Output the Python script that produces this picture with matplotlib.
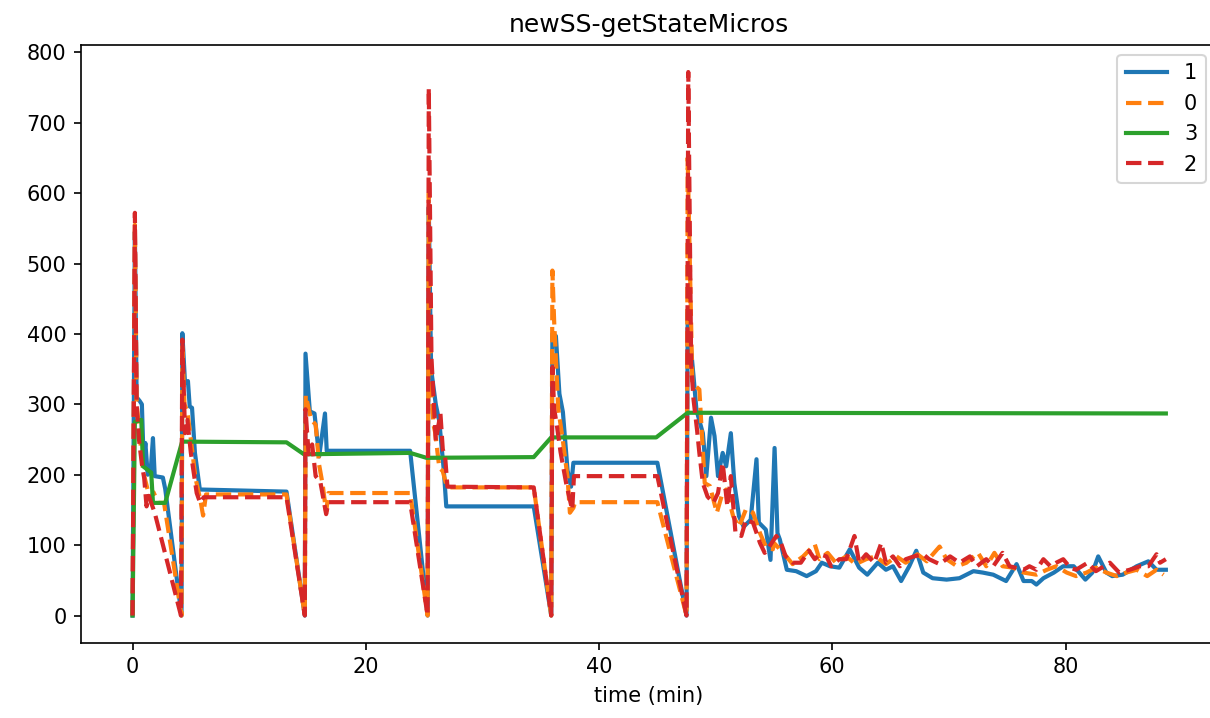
import matplotlib
matplotlib.use("Agg")
import matplotlib.pyplot as plt

# (time in minutes, value)
s1 = [(0, 0), (0.2, 545), (0.35, 310), (0.6, 305), (0.8, 300), (0.95, 220), (1.1, 245), (1.3, 200),
      (1.55, 205), (1.75, 252), (1.9, 198), (2.6, 196), (2.8, 180), (4.2, 0),
      (4.27, 401), (4.5, 330), (4.75, 333), (4.9, 297), (5.1, 295), (5.35, 231), (5.77, 179), (13.2, 176), (14.77, 0),
      (14.83, 372), (15.2, 290), (15.6, 287), (16.0, 226), (16.5, 287), (16.65, 234), (23.8, 234), (25.3, 0),
      (25.4, 580), (25.6, 350), (26.0, 300), (26.3, 276), (26.7, 204), (26.9, 155), (34.4, 155), (35.9, 0),
      (36.0, 400), (36.3, 397), (36.6, 315), (36.9, 289), (37.3, 206), (37.6, 183), (37.8, 217), (45.0, 217), (47.5, 0),
      (47.6, 430), (48.1, 340), (48.35, 292), (48.9, 259), (49.2, 198), (49.6, 281), (49.9, 255), (50.2, 198),
      (50.6, 231), (50.9, 212), (51.3, 259), (51.6, 188), (52.0, 141), (52.4, 126), (53.0, 136), (53.5, 222),
      (53.7, 132), (54.3, 122), (54.7, 79), (55.05, 238), (55.3, 117), (55.5, 108), (56.1, 65), (56.9, 63),
      (57.8, 56), (58.6, 63), (59.1, 75), (59.8, 70), (60.6, 68), (61.5, 94), (62.3, 68), (63.0, 58), (63.9, 75),
      (64.6, 65), (65.2, 70), (65.9, 49), (66.6, 70), (67.2, 92), (67.8, 61), (68.6, 53), (69.8, 51), (70.9, 53),
      (72.1, 63), (72.9, 61), (73.8, 58), (74.9, 49), (75.8, 73), (76.4, 49), (77.1, 49), (77.5, 44), (78.1, 53),
      (79.0, 61), (79.8, 70), (80.7, 70), (81.7, 51), (82.3, 61), (82.8, 84), (83.5, 61), (84.0, 56), (84.9, 58),
      (86.1, 70), (87.1, 77), (87.8, 65), (88.6, 65)]

s0 = [(0, 0), (0.2, 555), (0.35, 300), (0.6, 260), (0.9, 205), (1.2, 185), (1.5, 165), (1.8, 175), (2.2, 160),
      (2.7, 160), (4.2, 0),
      (4.27, 385), (4.45, 300), (4.7, 290), (5.0, 250), (5.4, 195), (5.8, 165), (6.05, 142), (6.3, 172), (13.2, 172), (14.77, 0),
      (14.85, 313), (15.3, 279), (15.7, 271), (16.0, 214), (16.3, 186), (16.6, 147), (16.8, 174), (23.8, 174), (25.3, 0),
      (25.4, 600), (25.6, 330), (25.8, 271), (25.95, 260), (26.3, 210), (26.6, 205), (26.9, 186), (27.1, 182), (34.4, 182), (35.9, 0),
      (36.0, 490), (36.15, 418), (36.5, 294), (36.9, 248), (37.3, 196), (37.5, 146), (37.8, 153), (37.95, 161), (45.0, 161), (47.5, 0),
      (47.6, 650), (48.0, 330), (48.6, 321), (49.06, 188), (49.5, 184), (50.1, 146), (50.5, 169), (50.9, 179),
      (51.5, 141), (52.0, 126), (52.6, 151), (53.2, 146), (53.8, 117), (54.3, 98), (54.9, 94), (55.0, 103),
      (55.8, 89), (56.6, 73), (57.5, 84), (58.5, 101), (58.9, 80), (59.6, 89), (60.3, 75), (61.2, 84), (62.0, 73),
      (62.9, 80), (63.7, 84), (64.6, 73), (65.5, 84), (66.3, 75), (67.3, 87), (68.1, 77), (69.2, 98), (69.8, 80),
      (70.7, 70), (71.5, 75), (72.5, 89), (73.2, 70), (73.9, 89), (74.6, 70), (75.5, 68), (76.4, 61), (77.5, 58),
      (78.4, 65), (79.2, 70), (80.1, 61), (80.9, 56), (81.8, 61), (82.6, 68), (83.5, 61), (84.4, 56), (85.2, 61),
      (86.1, 65), (87.0, 56), (87.8, 65), (88.4, 58)]

s3 = [(0, 0), (0.2, 275), (0.75, 278), (0.9, 212), (1.6, 203), (1.75, 160), (2.8, 160), (4.25, 247), (13.2, 246),
      (14.7, 229), (23.8, 231), (25.2, 224), (34.4, 225), (35.9, 253), (44.9, 253), (47.6, 288), (88.6, 287)]

s2 = [(0, 0), (0.2, 572), (0.35, 300), (0.55, 250), (0.8, 215), (1.0, 195), (1.2, 155), (1.4, 170), (1.6, 160),
      (1.9, 146), (4.15, 0),
      (4.27, 392), (4.5, 259), (4.7, 278), (5.0, 231), (5.5, 174), (5.8, 160), (6.1, 168), (13.2, 168), (14.77, 0),
      (14.83, 293), (15.1, 229), (15.4, 243), (15.7, 198), (16.1, 190), (16.6, 144), (16.8, 161), (23.8, 161), (25.3, 0),
      (25.4, 749), (25.63, 366), (26.0, 248), (26.4, 287), (26.6, 236), (26.8, 226), (27.0, 183), (34.4, 182), (35.9, 0),
      (36.0, 353), (36.15, 294), (36.4, 268), (36.7, 232), (37.2, 186), (37.7, 150), (37.85, 198), (45.0, 198), (47.5, 0),
      (47.65, 772), (47.9, 355), (48.1, 307), (48.4, 264), (48.6, 231), (48.9, 188), (49.3, 169), (49.8, 160),
      (50.2, 174), (50.6, 217), (51.0, 155), (51.3, 198), (51.7, 117), (52.2, 113), (52.6, 136), (53.2, 132),
      (53.8, 103), (54.2, 89), (54.6, 98), (55.2, 113), (55.6, 103), (56.0, 84), (56.6, 75), (57.3, 75), (58.0, 92),
      (58.5, 80), (58.9, 87), (59.5, 84), (59.9, 70), (60.6, 80), (61.2, 80), (61.9, 113), (62.3, 75), (62.9, 87),
      (63.6, 75), (64.2, 103), (64.6, 75), (65.2, 84), (65.8, 70), (66.3, 80), (67.0, 84), (67.8, 87), (68.3, 80),
      (69.2, 73), (70.1, 84), (70.9, 75), (71.8, 84), (72.4, 70), (73.2, 80), (73.8, 70), (74.6, 89), (75.2, 70),
      (76.4, 65), (76.9, 70), (77.5, 65), (78.1, 80), (78.7, 70), (79.2, 75), (79.8, 80), (80.4, 68), (80.9, 65),
      (81.9, 75), (82.6, 63), (83.8, 75), (84.6, 61), (85.5, 65), (86.4, 70), (87.1, 70), (87.8, 87), (88.1, 75),
      (88.6, 80)]

series = [("1", s1, "-"), ("0", s0, "--"), ("3", s3, "-"), ("2", s2, "--")]
colors = ["#1f77b4", "#ff7f0e", "#2ca02c", "#d62728"]

fig = plt.figure(figsize=(1210 / 150, 718 / 150), dpi=150)
# axes run slightly past the right edge of the image, as in the reference
ax = fig.add_axes([81 / 1210, 75.3 / 718, 1135 / 1210, 598 / 718])

for (name, pts, ls), c in zip(series, colors):
    t = [p[0] for p in pts]
    v = [p[1] for p in pts]
    ax.plot(t, v, linestyle=ls, color=c, linewidth=2, label=name)

ax.set_xlim(-4.42, 92.9)
ax.set_ylim(-38.6, 810.8)
ax.set_title("newSS-getStateMicros")
ax.set_xlabel("time (min)")
ax.legend(loc="upper right")

fig.savefig("out.png", dpi=150)
